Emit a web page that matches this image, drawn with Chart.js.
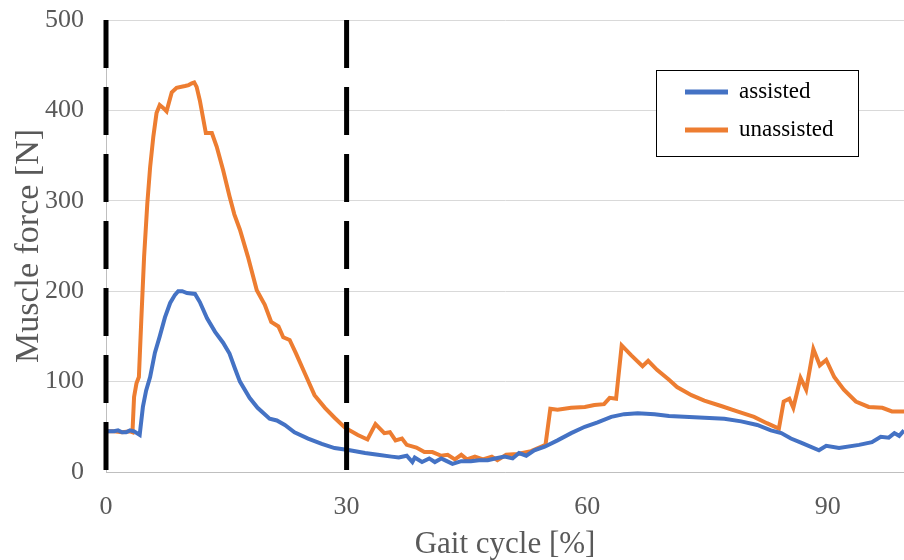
<!DOCTYPE html>
<html>
<head>
<meta charset="utf-8">
<script src="https://cdn.jsdelivr.net/npm/chart.js@4.4.1/dist/chart.umd.min.js"></script>
<style>
  html, body { margin: 0; padding: 0; background: #fff; overflow: hidden; }
  #forceChart { display: block; }
</style>
</head>
<body>
<canvas id="forceChart" width="904" height="560"></canvas>
<script>
// gait cycle [%] and muscle force [N], assisted
var assistedCycle = [0, 1, 1.5, 2, 2.5, 3, 3.5, 4.2, 4.6, 5.0, 5.5, 6.1, 6.7, 7.35, 8.0, 8.6, 9.0, 9.5,
    10.1, 11.1, 11.7, 12.6, 13.6, 14.6, 15.4, 16.1, 16.7, 17.9, 18.9, 20.4, 21.3, 22.3, 23.5, 25.2,
    26.9, 28.5, 30.4, 32.3, 33.9, 35.6, 36.5, 37.5, 38.2, 38.5, 39.4, 40.3, 41.0, 41.8, 42.5, 43.2,
    44.3, 45.5, 46.5, 47.6, 48.5, 49.7, 50.7, 51.5, 52.4, 53.4, 54.7, 56.3, 58.0, 59.7, 61.3, 63.0,
    64.6, 66.3, 68.4, 70.2, 72.1, 74.6, 77.1, 79.2, 81.2, 82.9, 84.2, 85.4, 86.8, 88.9, 89.8, 91.4,
    93.9, 95.5, 96.6, 97.6, 98.3, 98.9, 99.5];
var assistedForce = [45, 45, 46, 44, 44, 46, 45, 41, 72, 90, 105, 132, 150, 171, 187, 196, 200, 200,
    198, 197, 188, 170, 155, 143, 131, 114, 100, 82, 71, 59, 57, 52, 44, 37,
    31, 26.5, 24, 21, 19, 17, 16, 18, 11, 16, 11, 15, 11, 15, 12, 9,
    12, 12, 13, 13, 15, 17, 15, 21, 18, 24, 28, 35, 43, 50, 55, 61,
    64, 65, 64, 62, 61, 60, 59, 56, 52, 46, 43, 37, 32, 24, 29, 26.5,
    30, 33, 39, 38, 43, 40, 46];

// unassisted
var unassistedCycle = [0, 1, 2, 3, 3.3, 3.5, 3.8, 4.1, 4.4, 4.75, 5.15, 5.5, 5.9, 6.3, 6.7, 7.1, 7.55,
    8.2, 8.8, 9.85, 10.3, 10.7, 11.0, 11.3, 11.7, 12.45, 13.2, 13.8, 14.6, 15.4, 16.0, 16.7, 17.7,
    18.8, 19.8, 20.6, 21.5, 22.1, 22.9, 23.7, 24.8, 26.0, 27.3, 28.5, 29.8, 31.4, 32.6, 33.6, 34.7,
    35.4, 36.1, 36.9, 37.5, 38.7, 39.7, 40.7, 41.8, 42.6, 43.5, 44.3, 45.0, 46.0, 47.0, 48.1, 48.8,
    49.9, 51.3, 53.0, 54.3, 54.8, 55.4, 56.3, 58.0, 59.7, 60.9, 62.1, 62.8, 63.6, 64.3, 65.5, 66.9,
    67.6, 68.7, 70.2, 71.2, 73.0, 74.6, 76.7, 78.7, 80.8, 82.4, 83.9, 84.5, 85.2, 85.7, 86.6, 87.3,
    88.2, 89.0, 89.8, 90.8, 92.0, 93.5, 95.1, 96.8, 98.0, 99.5];
var unassistedForce = [45, 45, 44, 45, 44, 83, 98, 105, 168, 238, 297, 337, 371, 397, 406, 403, 399,
    420, 425, 427, 428, 430, 431, 426, 411, 375, 375, 360, 334, 305, 285, 268, 238,
    201, 185, 166, 161, 149, 146, 131, 109, 85, 71, 60, 49, 41, 36, 53, 43,
    44, 35, 37, 30, 27, 22, 22, 18, 19, 14, 19, 14, 17, 14, 17, 13,
    19, 20, 23, 28, 30, 70, 69, 71, 72, 74, 75, 82, 81, 140, 129, 117,
    123, 113, 102, 94, 85, 79, 73, 67, 61, 54, 48, 78, 81, 71, 104, 91,
    136, 118, 124, 105, 91, 78, 72, 71, 67, 67];

// stance phase markers and axis ticks
var phaseLines = [0, 30];
var xTicks = [0, 30, 60, 90];
var yTicks = [0, 100, 200, 300, 400, 500];

var serif = "'Liberation Serif', 'Times New Roman', serif";
var blue = '#4472C4';
var orange = '#ED7D31';

function toPoints(xs, ys) {
    var pts = [];
    for (var i = 0; i < xs.length; i++) {
        pts.push({ x: xs[i], y: ys[i] });
    }
    return pts;
}

var datasets = [];
for (var i in phaseLines) {
    datasets.push({
        label: 'phase',
        data: [{ x: phaseLines[i], y: 500 }, { x: phaseLines[i], y: 0 }],
        borderColor: '#000',
        borderWidth: 5,
        borderDash: [48, 19],
        pointRadius: 0,
        clip: false
    });
}
datasets.push({
    label: 'assisted',
    data: toPoints(assistedCycle, assistedForce),
    borderColor: blue,
    borderWidth: 4,
    pointRadius: 0,
    tension: 0
});
datasets.push({
    label: 'unassisted',
    data: toPoints(unassistedCycle, unassistedForce),
    borderColor: orange,
    borderWidth: 4,
    pointRadius: 0,
    tension: 0
});

// boxed legend inside the plot, upper right
var boxLegend = {
    id: 'boxLegend',
    afterDraw: function (chart) {
        var ctx = chart.ctx;
        var items = [['assisted', blue], ['unassisted', orange]];
        ctx.save();
        ctx.fillStyle = '#fff';
        ctx.fillRect(656, 70, 202, 86);
        ctx.strokeStyle = '#000';
        ctx.lineWidth = 1;
        ctx.strokeRect(656.5, 70.5, 202, 86);
        ctx.font = '23px ' + serif;
        ctx.textBaseline = 'middle';
        for (var k = 0; k < items.length; k++) {
            var y = 92 + k * 38;
            ctx.strokeStyle = items[k][1];
            ctx.lineWidth = 5;
            ctx.beginPath();
            ctx.moveTo(685, y);
            ctx.lineTo(728, y);
            ctx.stroke();
            ctx.fillStyle = '#000';
            ctx.fillText(items[k][0], 739, y);
        }
        ctx.restore();
    }
};

var ctx = document.getElementById('forceChart').getContext('2d');
var chart = new Chart(ctx, {
    type: 'line',
    data: { datasets: datasets },
    options: {
        responsive: false,
        animation: false,
        devicePixelRatio: 1,
        layout: { padding: { top: 20, right: 0, bottom: 0, left: 0 } },
        plugins: {
            legend: { display: false },
            tooltip: { enabled: false }
        },
        scales: {
            x: {
                type: 'linear',
                min: 0,
                max: 99.5,
                afterBuildTicks: function (scale) {
                    scale.ticks = xTicks.map(function (v) { return { value: v }; });
                },
                afterFit: function (scale) {
                    scale.height = 88;
                    scale.paddingRight = 0;
                },
                grid: { display: false },
                border: { display: true, color: '#bfbfbf', width: 1 },
                ticks: {
                    includeBounds: false,
                    padding: 12,
                    color: '#595959',
                    font: { family: serif, size: 26 },
                    maxRotation: 0
                },
                title: {
                    display: true,
                    text: 'Gait cycle [%]',
                    color: '#595959',
                    font: { family: serif, size: 31, lineHeight: 0.95 },
                    padding: { top: 0, bottom: 0 }
                }
            },
            y: {
                min: 0,
                max: 500,
                afterBuildTicks: function (scale) {
                    scale.ticks = yTicks.map(function (v) { return { value: v }; });
                },
                afterFit: function (scale) {
                    // tick padding would otherwise push the plot top down
                    scale.width = 106;
                    scale.paddingTop = 0;
                    scale.paddingBottom = 0;
                },
                grid: { color: '#d9d9d9', lineWidth: 1, drawTicks: false },
                border: { display: true, color: '#bfbfbf', width: 1 },
                ticks: {
                    padding: 22,
                    color: '#595959',
                    font: { family: serif, size: 26 }
                },
                title: {
                    display: true,
                    text: 'Muscle force [N]',
                    color: '#595959',
                    font: { family: serif, size: 34, lineHeight: 1.2 },
                    padding: { top: 9, bottom: 0 }
                }
            }
        }
    },
    plugins: [boxLegend]
});
</script>
</body>
</html>
